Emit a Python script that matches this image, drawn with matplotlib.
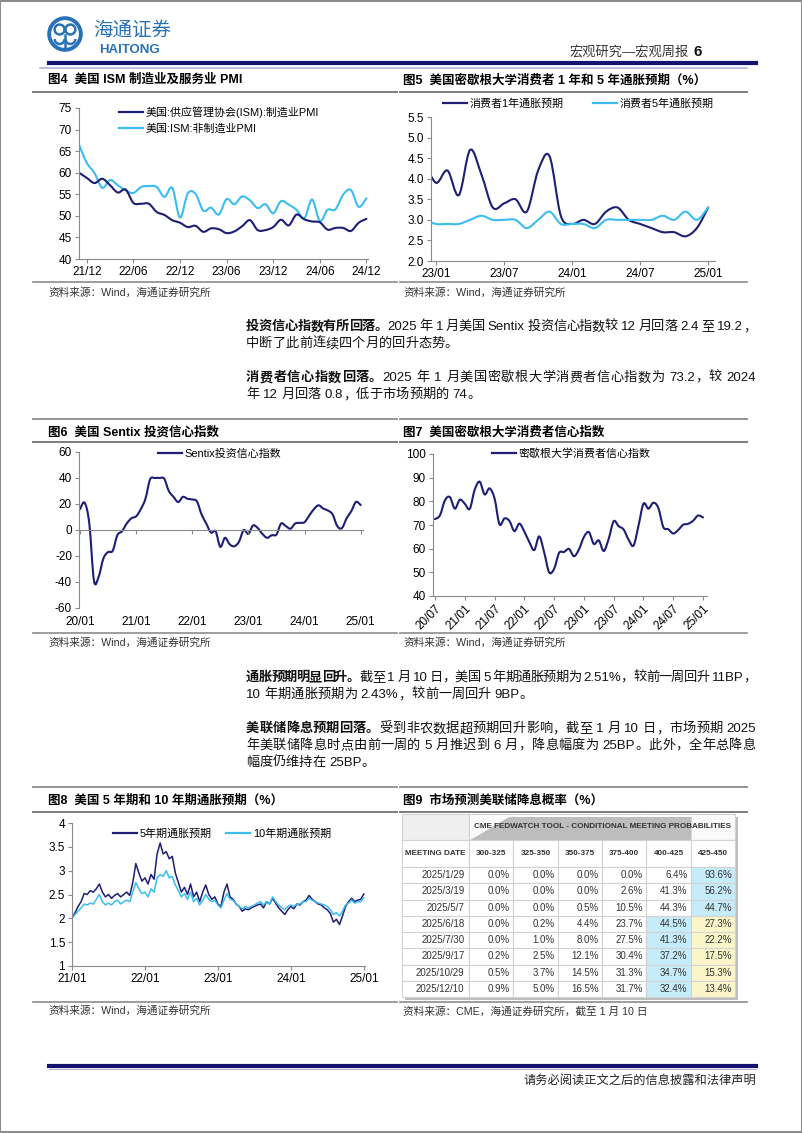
import re
import numpy as np
import matplotlib
matplotlib.use("Agg")
import matplotlib.pyplot as plt
from matplotlib.path import Path
from matplotlib.patches import PathPatch, Rectangle, Circle, Arc
from matplotlib.lines import Line2D

plt.rcParams["font.family"] = ["Liberation Sans", "Noto Sans CJK SC"]
plt.rcParams["axes.unicode_minus"] = False

# ---- 数据 ----
# 图4 ISM PMI (2021/11 - 2024/12)
pmi_ticks = ["21/12", "22/06", "22/12", "23/06", "23/12", "24/06", "24/12"]
ism_mfg = [60.0, 58.8, 57.6, 58.6, 57.1, 55.4, 56.1, 53.0, 52.8, 52.8, 50.9, 50.2, 49.0,
           48.4, 47.4, 47.7, 46.3, 47.1, 46.9, 46.0, 46.4, 47.6, 49.0, 46.7, 46.7, 47.4,
           49.1, 47.8, 50.3, 49.2, 48.7, 48.5, 46.8, 47.2, 47.2, 46.5, 48.4, 49.3]
ism_srv = [66.5, 62.3, 59.9, 56.5, 58.3, 57.1, 55.9, 55.3, 56.7, 56.9, 56.7, 54.4, 56.5,
           49.6, 55.2, 55.1, 51.2, 51.9, 50.3, 53.9, 52.7, 54.5, 53.6, 51.8, 52.7, 50.6,
           53.4, 52.6, 51.4, 49.4, 53.8, 48.8, 51.4, 51.5, 54.9, 56.0, 52.1, 54.1]

# 图5 密歇根通胀预期 (2022/12 - 2025/01)
infl_ticks = ["23/01", "23/07", "24/01", "24/07", "25/01"]
umich_1y = [4.4, 3.9, 4.2, 3.6, 4.7, 4.1, 3.3, 3.4, 3.5, 3.2, 4.2, 4.55, 3.1,
            2.9, 3.0, 2.9, 3.2, 3.3, 3.0, 2.9, 2.8, 2.7, 2.7, 2.6, 2.8, 3.3]
umich_5y = [3.0, 2.9, 2.9, 2.9, 3.0, 3.1, 3.0, 3.0, 3.0, 2.8, 3.0, 3.2, 2.9,
            2.9, 2.9, 2.8, 3.0, 3.0, 3.0, 3.0, 3.0, 3.1, 3.0, 3.2, 3.0, 3.3]

# 图6 Sentix (2020/01 - 2025/01)
sentix_ticks = ["20/01", "21/01", "22/01", "23/01", "24/01", "25/01"]
sentix = [16, 21, 5, -39, -36, -22, -17, -16, -4, -1, 5, 9, 10.5, 16, 24, 39, 40, 40,
          39.5, 30, 25.5, 21.5, 25.5, 24, 23.5, 22, 12, 5, -2, -1, -13, -6, -11, -12.5,
          -9, 0, -3, 3.5, 1.5, -3, -6, -4, -3.5, 5, 3, 1, 5, 5.5, 6, 11, 16, 19, 16.5,
          15, 12, 3, 1.5, 9, 14.5, 21.6, 19.2]

# 图7 密歇根消费者信心 (2020/07 - 2025/01)
conf_ticks = ["20/07", "21/01", "21/07", "22/01", "22/07", "23/01", "23/07", "24/01", "24/07", "25/01"]
umich_conf = [72.5, 74.1, 80.4, 81.8, 76.9, 80.7, 79.0, 76.8, 84.9, 88.3, 82.9, 85.5,
              81.2, 70.3, 72.8, 71.7, 67.4, 70.6, 67.2, 62.8, 59.4, 65.2, 58.4, 50.0,
              51.5, 58.2, 58.6, 59.9, 56.8, 59.7, 64.9, 67.0, 62.0, 63.5, 59.0, 64.2,
              71.6, 69.5, 68.1, 63.8, 61.3, 69.7, 79.0, 76.9, 79.4, 77.2, 69.1, 68.2,
              66.4, 67.9, 70.1, 70.5, 71.8, 74.0, 73.2]

# 图8 5年/10年通胀预期 (2021/01 - 2025/01, 半月)
be_ticks = ["21/01", "22/01", "23/01", "24/01", "25/01"]
be5 = [2.00, 2.12, 2.25, 2.35, 2.52, 2.50, 2.58, 2.55, 2.62, 2.72, 2.55, 2.45, 2.50, 2.42,
       2.48, 2.52, 2.45, 2.50, 2.55, 2.48, 2.75, 3.15, 2.95, 2.78, 2.85, 2.72, 2.92, 2.82,
       3.35, 3.58, 3.35, 3.40, 3.25, 3.30, 2.95, 2.75, 2.55, 2.65, 2.50, 2.72, 2.45, 2.55,
       2.35, 2.55, 2.70, 2.50, 2.40, 2.45, 2.30, 2.25, 2.55, 2.72, 2.45, 2.40, 2.30, 2.25,
       2.15, 2.20, 2.18, 2.22, 2.25, 2.28, 2.30, 2.22, 2.35, 2.30, 2.42, 2.32, 2.22, 2.15,
       2.08, 2.18, 2.25, 2.20, 2.30, 2.28, 2.35, 2.38, 2.48, 2.40, 2.35, 2.30, 2.28, 2.22,
       2.18, 2.10, 1.92, 1.98, 1.87, 2.05, 2.25, 2.35, 2.42, 2.35, 2.38, 2.40, 2.51]
be10 = [2.00, 2.08, 2.15, 2.22, 2.30, 2.28, 2.32, 2.30, 2.40, 2.50, 2.35, 2.28, 2.32, 2.28,
        2.35, 2.38, 2.30, 2.35, 2.38, 2.35, 2.55, 2.75, 2.62, 2.52, 2.55, 2.45, 2.62, 2.55,
        2.85, 2.92, 2.88, 3.00, 2.85, 2.88, 2.70, 2.58, 2.45, 2.52, 2.40, 2.55, 2.35, 2.42,
        2.28, 2.38, 2.50, 2.40, 2.35, 2.38, 2.28, 2.22, 2.38, 2.52, 2.40, 2.38, 2.30, 2.25,
        2.20, 2.25, 2.22, 2.25, 2.28, 2.32, 2.35, 2.28, 2.35, 2.30, 2.45, 2.35, 2.28, 2.22,
        2.18, 2.25, 2.28, 2.25, 2.30, 2.30, 2.35, 2.35, 2.42, 2.38, 2.35, 2.32, 2.30, 2.28,
        2.25, 2.18, 2.08, 2.12, 2.05, 2.15, 2.28, 2.32, 2.38, 2.32, 2.35, 2.35, 2.43]

# 图9 CME FedWatch
meet_dates = ["2025/1/29", "2025/3/19", "2025/5/7", "2025/6/18", "2025/7/30",
              "2025/9/17", "2025/10/29", "2025/12/10"]
rate_bins = ["300-325", "325-350", "350-375", "375-400", "400-425", "425-450"]
p300 = [0.0, 0.0, 0.0, 0.0, 0.0, 0.2, 0.5, 0.9]
p325 = [0.0, 0.0, 0.0, 0.2, 1.0, 2.5, 3.7, 5.0]
p350 = [0.0, 0.0, 0.5, 4.4, 8.0, 12.1, 14.5, 16.5]
p375 = [0.0, 2.6, 10.5, 23.7, 27.5, 30.4, 31.3, 31.7]
p400 = [6.4, 41.3, 44.3, 44.5, 41.3, 37.2, 34.7, 32.4]
p425 = [93.6, 56.2, 44.7, 27.3, 22.2, 17.5, 15.3, 13.4]

# ---- 页面 ----
W, H = 802, 1133
NAVY = "#1e1e74"
CYAN = "#3bbdf0"
AXC = "#8a8a8a"

fig = plt.figure(figsize=(W / 100, H / 100), dpi=100)
fig.patch.set_facecolor("white")


def fx(x):
    return x / W


def fy(y):
    return 1 - y / H


def hline(y, x0, x1, color, lw):
    fig.add_artist(Line2D([fx(x0), fx(x1)], [fy(y), fy(y)], color=color, lw=lw,
                          transform=fig.transFigure))


def add_ax(l, t, r, b):
    ax = fig.add_axes([fx(l), fy(b), (r - l) / W, (b - t) / H])
    for s in ["top", "right"]:
        ax.spines[s].set_visible(False)
    for s in ["left", "bottom"]:
        ax.spines[s].set_color(AXC)
        ax.spines[s].set_linewidth(0.8)
    ax.tick_params(direction="out", length=3, width=0.8, color=AXC, labelsize=8.5, pad=2)
    ax.patch.set_alpha(0)
    return ax


def smooth(ax, x, y, color, lw):
    """平滑曲线 (Catmull-Rom -> Bezier)"""
    x = np.asarray(x, float)
    y = np.asarray(y, float)
    n = len(x)
    verts = [(x[0], y[0])]
    codes = [Path.MOVETO]
    for i in range(n - 1):
        a, b = max(i - 1, 0), min(i + 2, n - 1)
        c1 = (x[i] + (x[i + 1] - x[a]) / 6, y[i] + (y[i + 1] - y[a]) / 6)
        c2 = (x[i + 1] - (x[b] - x[i]) / 6, y[i + 1] - (y[b] - y[i]) / 6)
        verts += [c1, c2, (x[i + 1], y[i + 1])]
        codes += [Path.CURVE4] * 3
    ax.add_patch(PathPatch(Path(verts, codes), fill=False, edgecolor=color, lw=lw,
                           joinstyle="round", capstyle="round"))


def legend(ax, items, x, y, ncol=1, **kw):
    handles = [Line2D([], [], color=c, lw=1.6) for _, c in items]
    ax.legend(handles, [t for t, _ in items], loc="center left", ncol=ncol,
              bbox_to_anchor=(fx(x), fy(y)), bbox_transform=fig.transFigure,
              frameon=False, fontsize=7.9, handlelength=2.2, handletextpad=0.25,
              borderpad=0, borderaxespad=0, **kw)


def panel(x0, x1, tx, title, source, y_title, y_rule, y_src_rule, y_src, y_top=None):
    if y_top is not None:
        hline(y_top, x0, x1, "#8c8c8c", 1.3)
    fig.text(fx(tx), fy(y_title), title, fontsize=9, fontweight="bold", va="center")
    hline(y_rule, x0, x1, "#7c7c7c", 1.4)
    hline(y_src_rule, x0, x1, "#8c8c8c", 1.2)
    fig.text(fx(tx), fy(y_src), source, fontsize=7.7, color="#333333", va="center")


RENDER = fig.canvas.get_renderer()


def para_line(y, segs, x0=246, x1=756, size=9.5, justify=True):
    arts, widths = [], []
    for s, bold in segs:
        for tok in re.findall(r"[A-Za-z0-9.%]+|.", s):
            a = fig.text(0, fy(y), tok, fontsize=size, va="center", ha="left",
                         fontweight="bold" if bold else "normal", color="#111111")
            arts.append(a)
            if tok == " ":
                widths.append(size * 100 / 72 * 0.27)
            else:
                widths.append(a.get_window_extent(RENDER).width)
    gap = (x1 - x0 - sum(widths)) / (len(arts) - 1) if justify else 0
    x = x0
    for a, w in zip(arts, widths):
        a.set_x(fx(x))
        x += w + gap


# 页面边框、页眉、页脚
fig.add_artist(Rectangle((0.0005, 0.0005), 0.999, 0.999, transform=fig.transFigure,
                         fill=False, ec="#8c8c8c", lw=1.5))
BLUE = "#2a72b8"
lax = fig.add_axes([fx(47), fy(52), 36 / W, 36 / H])
lax.set_xlim(-1, 1)
lax.set_ylim(-1, 1)
lax.axis("off")
lax.add_patch(Circle((0, 0), 0.88, fill=False, ec=BLUE, lw=2.8))
for cx, cy in [(-0.3, 0.25), (0.3, 0.25)]:
    lax.add_patch(Arc((cx, cy), 0.55, 0.55, theta1=0, theta2=360, color=BLUE, lw=1.8))
lax.add_patch(Arc((-0.3, -0.28), 0.55, 0.55, theta1=180, theta2=360, color=BLUE, lw=1.8))
lax.add_patch(Arc((0.3, -0.28), 0.55, 0.55, theta1=180, theta2=360, color=BLUE, lw=1.8))
lax.plot([0, 0], [-0.05, -0.7], color=BLUE, lw=1.8)
fig.text(fx(93), fy(31), "海通证券", fontsize=14, color=BLUE, va="center")
fig.text(fx(99), fy(50), "HAITONG", fontsize=9.5, fontweight="bold", color=BLUE, va="center")
fig.text(fx(689), fy(52), "宏观研究—宏观周报", fontsize=9.5, color="#333333",
         va="center", ha="right")
fig.text(fx(693), fy(52), "6", fontsize=11, fontweight="bold", color="#111111", va="center")
hline(63, 49, 756, "#14146e", 3.0)
hline(68, 40, 747, "#b4b4d6", 1.2)
hline(1066, 49, 756, "#14146e", 3.0)
hline(1069, 49, 756, "#b4b4d6", 0.8)
fig.text(fx(756), fy(1081), "请务必阅读正文之后的信息披露和法律声明", fontsize=8.8,
         color="#222222", va="center", ha="right")

SRC = "资料来源：Wind，海通证券研究所"

# ---- 图4 ----
panel(33, 397, 48, "图4  美国 ISM 制造业及服务业 PMI", SRC, 80, 92, 282, 293)
ax4 = add_ax(79, 108, 368, 259)
x4 = np.arange(len(ism_mfg))
smooth(ax4, x4, ism_srv, CYAN, 1.5)
smooth(ax4, x4, ism_mfg, NAVY, 1.5)
ax4.set_xlim(0, 37.2)
ax4.set_ylim(40, 75)
ax4.set_yticks(range(40, 76, 5))
ax4.set_xticks(range(1, 38, 6))
ax4.set_xticklabels(pmi_ticks)
legend(ax4, [("美国:供应管理协会(ISM):制造业PMI", NAVY), ("美国:ISM:非制造业PMI", CYAN)],
       119, 120, labelspacing=0.55)

# ---- 图5 ----
panel(400, 747, 403, "图5  美国密歇根大学消费者 1 年和 5 年通胀预期（%）", SRC, 80, 92, 282, 293)
ax5 = add_ax(431, 117, 715, 261)
x5 = np.arange(len(umich_1y)) - 1
smooth(ax5, x5, umich_1y, NAVY, 1.5)
smooth(ax5, x5, umich_5y, CYAN, 1.5)
ax5.set_xlim(-0.45, 24.6)
ax5.set_ylim(2.0, 5.5)
ax5.set_yticks(np.arange(2.0, 5.51, 0.5))
ax5.set_yticklabels([f"{v:.1f}" for v in np.arange(2.0, 5.51, 0.5)])
ax5.set_xticks(range(0, 25, 6))
ax5.set_xticklabels(infl_ticks)
legend(ax5, [("消费者1年通胀预期", NAVY), ("消费者5年通胀预期", CYAN)], 443, 104,
       ncol=2, columnspacing=2.6)

# ---- 正文 1 ----
para_line(327, [("投资信心指数有所回落。", True),
                ("2025 年 1 月美国 Sentix 投资信心指数较 12 月回落 2.4 至 19.2，", False)])
para_line(344, [("中断了此前连续四个月的回升态势。", False)], justify=False)
para_line(378, [("消费者信心指数回落。", True),
                ("2025 年 1 月美国密歇根大学消费者信心指数为 73.2，较 2024", False)])
para_line(395, [("年 12 月回落 0.8，低于市场预期的 74。", False)], justify=False)

# ---- 图6 ----
panel(33, 397, 48, "图6  美国 Sentix 投资信心指数", SRC, 432, 442, 633, 643, y_top=419)
ax6 = add_ax(79, 452, 363, 608)
smooth(ax6, np.arange(len(sentix)), sentix, NAVY, 1.5)
ax6.set_xlim(-0.2, 60.5)
ax6.set_ylim(-60, 60)
ax6.set_yticks(range(-60, 61, 20))
ax6.spines["bottom"].set_position(("data", 0))
ax6.set_xticks(range(0, 61, 12))
ax6.set_xticklabels(sentix_ticks)
ax6.tick_params(axis="x", pad=59)
legend(ax6, [("Sentix投资信心指数", NAVY)], 158, 454)

# ---- 图7 ----
panel(400, 747, 403, "图7  美国密歇根大学消费者信心指数", SRC, 432, 442, 633, 643, y_top=419)
ax7 = add_ax(433, 454, 707, 596)
smooth(ax7, np.arange(len(umich_conf)), umich_conf, NAVY, 1.5)
ax7.set_xlim(-0.4, 54.8)
ax7.set_ylim(40, 100)
ax7.set_yticks(range(40, 101, 10))
ax7.set_xticks(range(0, 55, 6))
ax7.set_xticklabels(conf_ticks, rotation=45, ha="right", rotation_mode="anchor")
legend(ax7, [("密歇根大学消费者信心指数", NAVY)], 492, 454)

# ---- 正文 2 ----
para_line(678, [("通胀预期明显回升。", True),
                ("截至 1 月 10 日，美国 5 年期通胀预期为 2.51%，较前一周回升 11BP，", False)])
para_line(695, [("10 年期通胀预期为 2.43%，较前一周回升 9BP。", False)], justify=False)
para_line(729, [("美联储降息预期回落。", True),
                ("受到非农数据超预期回升影响，截至 1 月 10 日，市场预期 2025", False)])
para_line(746, [("年美联储降息时点由前一周的 5 月推迟到 6 月，降息幅度为 25BP。此外，全年总降息", False)])
para_line(763, [("幅度仍维持在 25BP。", False)], justify=False)

# ---- 图8 ----
panel(33, 397, 48, "图8  美国 5 年期和 10 年期通胀预期（%）", SRC, 801, 812, 1002, 1011, y_top=787)
ax8 = add_ax(72, 823, 365, 966)
x8 = np.arange(len(be5)) / 2
ax8.plot(x8, be5, color=NAVY, lw=1.1)
ax8.plot(x8, be10, color=CYAN, lw=1.1)
ax8.set_xlim(0, 48.2)
ax8.set_ylim(1, 4)
ax8.set_yticks(np.arange(1, 4.01, 0.5))
ax8.set_yticklabels(["1", "1.5", "2", "2.5", "3", "3.5", "4"])
ax8.set_xticks(range(0, 49, 12))
ax8.set_xticklabels(be_ticks)
legend(ax8, [("5年期通胀预期", NAVY), ("10年期通胀预期", CYAN)], 113, 834,
       ncol=2, columnspacing=1.3)

# ---- 图9 ----
panel(400, 747, 403, "图9  市场预测美联储降息概率（%）", "资料来源：CME，海通证券研究所，截至 1 月 10 日",
      801, 812, 1002, 1011, y_top=787)
tax = fig.add_axes([fx(402), fy(997), (735 - 402) / W, (997 - 814) / H])
tax.axis("off")
probs = [p300, p325, p350, p375, p400, p425]
cells = [[""] * 7, ["MEETING DATE"] + rate_bins]
cells += [[d] + [f"{p[i]:.1f}%" for p in probs] for i, d in enumerate(meet_dates)]
col_w = [67] + [44.33] * 6
row_h = [26, 27] + [16.25] * 8
tbl = tax.table(cellText=cells, colWidths=[w / sum(col_w) for w in col_w],
                cellLoc="right", bbox=[0, 0, 1, 1])
tbl.auto_set_font_size(False)
tbl.set_fontsize(7)
tbl.set_zorder(3)
for (r, c), cell in tbl.get_celld().items():
    cell.set_height(row_h[r] / sum(row_h))
    cell.set_edgecolor("#d2d2d2")
    cell.set_linewidth(0.8)
    cell.PAD = 0.07
    txt = cell.get_text()
    txt.set_color("#333333")
    if r < 2:
        cell._loc = "center"
        txt.set_ha("center")
        txt.set_fontweight("bold")
        txt.set_fontsize(5.9)
    if r == 0:
        if c == 0:
            cell.set_facecolor("#efefef")
        else:
            cell.visible_edges = "BTL" if c == 1 else ("BTR" if c == 6 else "BT")
            cell.set_facecolor("#fafafa")
    if r >= 2 and c >= 1:
        row = [p[r - 2] for p in probs]
        if row[c - 1] == max(row):
            cell.set_facecolor("#c6ebf9")
        elif c == 6:
            cell.set_facecolor("#fbf5c9")
tax.add_patch(Rectangle((0.009, -0.014), 1, 1, transform=tax.transAxes, fc="#bdbdbd",
                        ec="none", zorder=1, clip_on=False))
tax.text((67 + 3 * 44.33) / sum(col_w), 1 - 13 / sum(row_h),
         "CME FEDWATCH TOOL - CONDITIONAL MEETING PROBABILITIES", fontsize=5.9,
         fontweight="bold", color="#333333", ha="center", va="center", zorder=5)

fig.savefig("out.png", dpi=100)
